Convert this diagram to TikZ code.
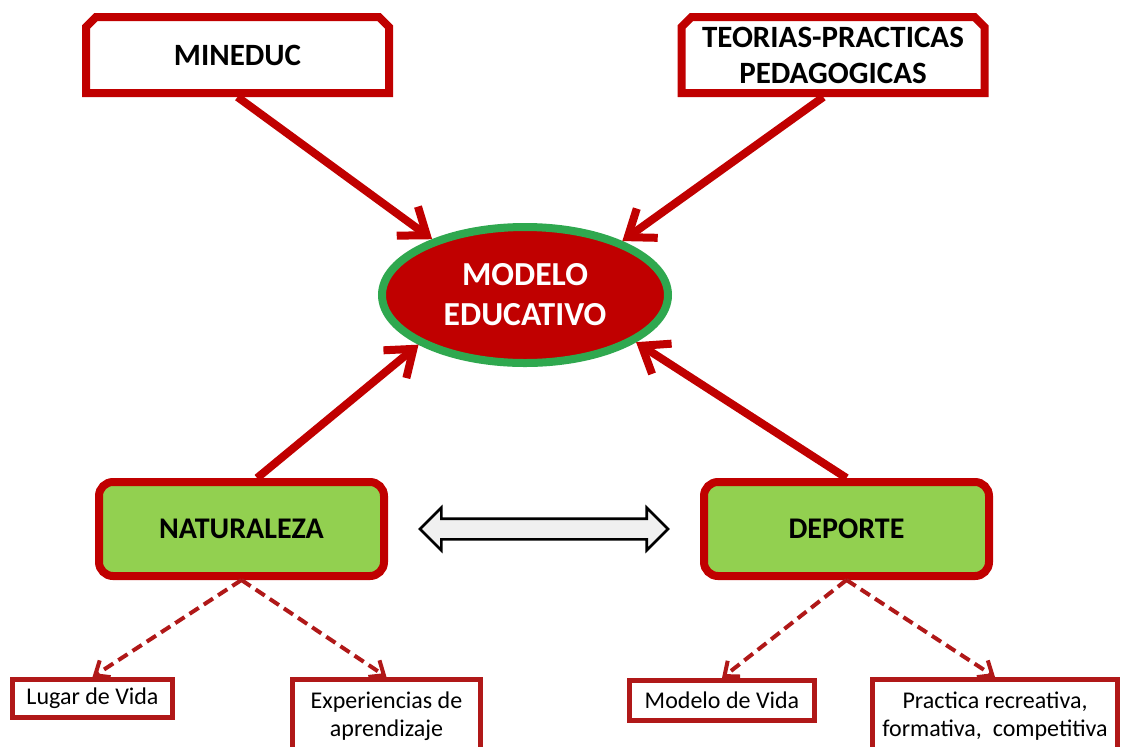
\documentclass[tikz,border=0pt]{standalone}
\usepackage{fontspec}
\setmainfont{Carlito}
\usetikzlibrary{arrows.meta,shapes.geometric,shapes.misc,shapes.arrows}
\definecolor{boxred}{HTML}{C00000}
\definecolor{dashred}{HTML}{B01818}
\definecolor{ringgreen}{HTML}{2FA84F}
\definecolor{leafgreen}{HTML}{92D050}

\begin{document}
\begin{tikzpicture}[x=0.5pt,y=-0.5pt]
	\tikzstyle{box_top} = [chamfered rectangle, chamfered rectangle corners={north west,north east}, chamfered rectangle xsep=2.5pt, chamfered rectangle ysep=2.5pt, draw=boxred, line width=4pt, fill=white, minimum width=151.5pt, minimum height=38pt, inner sep=0pt, align=center, font=\fontsize{15.5}{18}\selectfont\bfseries]
	\tikzstyle{ellipse_main} = [ellipse, draw=ringgreen, line width=4pt, fill=boxred, text=white, minimum width=143pt, minimum height=68pt, inner sep=0pt, align=center, font=\fontsize{16.8}{20}\selectfont\bfseries]
	\tikzstyle{box_green} = [rectangle, rounded corners=7pt, draw=boxred, line width=4pt, fill=leafgreen, minimum width=142.5pt, minimum height=47pt, font=\fontsize{15}{18}\selectfont\bfseries]
	\tikzstyle{box_small} = [rectangle, draw=dashred, line width=2.5pt, fill=white, inner sep=0pt, align=center, font=\fontsize{12}{14}\selectfont]
	\tikzstyle{arrow_main} = [draw=boxred, line width=4pt, -{Straight Barb[length=12pt,width=18pt]}]
	\tikzstyle{arrow_dashed} = [draw=dashred, line width=2pt, dash pattern=on 5.5pt off 3pt, -{Straight Barb[length=6pt,width=10pt]}]
	\tikzstyle{arrow_double} = [double arrow, draw=black, line width=1.3pt, fill=gray!12, minimum height=124pt, minimum width=20pt, inner sep=4.5pt, double arrow head extend=5.5pt, double arrow tip angle=90]

	\useasboundingbox (0,0) rectangle (1126,746);

%------------------------------------------------------------
	\node[box_top] (mineduc) at (237.5,55) {MINEDUC};
	\node[box_top] (teorias) at (833,55) {TEORIAS-PRACTICAS\\PEDAGOGICAS};

%------------------------------------------------------------

	\node[ellipse_main] (modelo) at (525,295) {MODELO\\EDUCATIVO};

%------------------------------------------------------------

	\node[box_green] (naturaleza) at (241.5,529) {NATURALEZA};
	\node[box_green] (deporte) at (846.5,529) {DEPORTE};

	\path (naturaleza) -- node[arrow_double]{} (deporte);

%------------------------------------------------------------

	\node[box_small, minimum width=80pt, minimum height=19pt] (lugar) at (92.5,698.5) {Lugar de Vida};
	\node[box_small, minimum width=94pt, minimum height=36.5pt] (experiencias) at (386.5,716) {Experiencias de\\aprendizaje};
	\node[box_small, minimum width=92.5pt, minimum height=20pt] (vida) at (722,700.5) {Modelo de Vida};
	\node[box_small, minimum width=122.5pt, minimum height=36.5pt] (practica) at (995,716) {Practica recreativa,\\formativa,\ \ competitiva};

%------------------------------------------------------------

	\draw[arrow_main] (mineduc.south) -- (modelo.149);
	\draw[arrow_main] (teorias.-103) -- (modelo.29);
	\draw[arrow_main] (naturaleza.73) -- (modelo.205);
	\draw[arrow_main] (deporte.north) -- (modelo.-23);

	\draw[arrow_dashed] (naturaleza.south) -- (lugar.north);
	\draw[arrow_dashed] (naturaleza.south) -- (experiencias.north);
	\draw[arrow_dashed] (deporte.south) -- (vida.north);
	\draw[arrow_dashed] (deporte.south) -- (practica.north);

\end{tikzpicture}
\end{document}
